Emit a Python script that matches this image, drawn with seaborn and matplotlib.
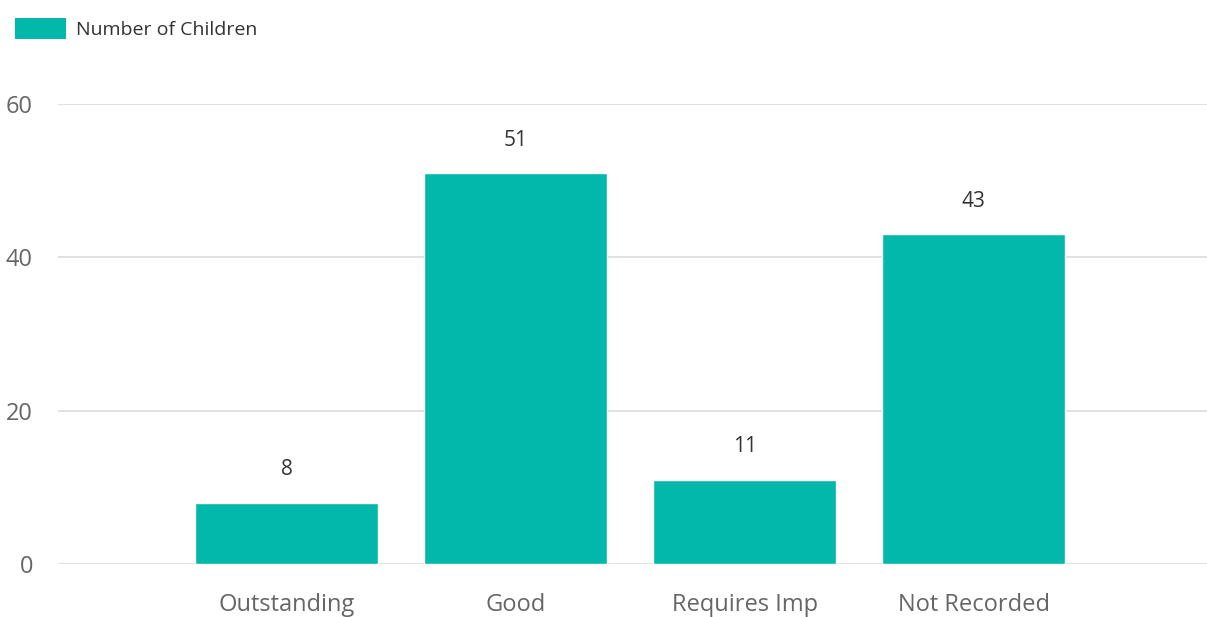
import pandas as pd
import matplotlib
matplotlib.use("Agg")
import matplotlib.pyplot as plt
import seaborn as sns
from matplotlib.patches import Patch

categories = ["Outstanding", "Good", "Requires Imp", "Not Recorded"]
children = [8, 51, 11, 43]
y_ticks = [0, 20, 40, 60]

df = pd.DataFrame({"Rating": categories, "Number of Children": children})

sns.set_style("white")
plt.rcParams["font.family"] = ["Open Sans", "DejaVu Sans"]

teal = "#01B8AA"
fig = plt.figure(figsize=(12.07, 6.17), dpi=100)
ax = fig.add_axes([58 / 1207, 53 / 617, 1 - 58 / 1207, 460 / 617])

sns.barplot(data=df, x="Rating", y="Number of Children", color=teal,
            saturation=1, width=0.8, ax=ax)

ax.set_xlim(-1.0, 4.02)
ax.set_ylim(0, 60)
ax.set_yticks(y_ticks)
ax.grid(axis="y", color="#dcdcdc", linewidth=1.2)
ax.set_axisbelow(True)
for s in ax.spines.values():
    s.set_visible(False)
ax.tick_params(axis="both", length=0, labelsize=17, labelcolor="#666666")
ax.tick_params(axis="x", pad=21)
ax.tick_params(axis="y", pad=18)
ax.set_xlabel("")
ax.set_ylabel("")

# data labels
for i, v in enumerate(children):
    ax.text(i, v + 2.9, str(v), ha="center", va="bottom", fontsize=15,
            color="#333333", clip_on=False)

# legend at the top left
fig.legend(handles=[Patch(facecolor=teal, edgecolor="none")],
           labels=["Number of Children"], loc="upper left",
           bbox_to_anchor=(-0.002, 1.0), frameon=False, fontsize=14,
           handlelength=2.6, handleheight=1.3, handletextpad=0.55,
           labelcolor="#333333")

fig.savefig("out.png", dpi=100)
